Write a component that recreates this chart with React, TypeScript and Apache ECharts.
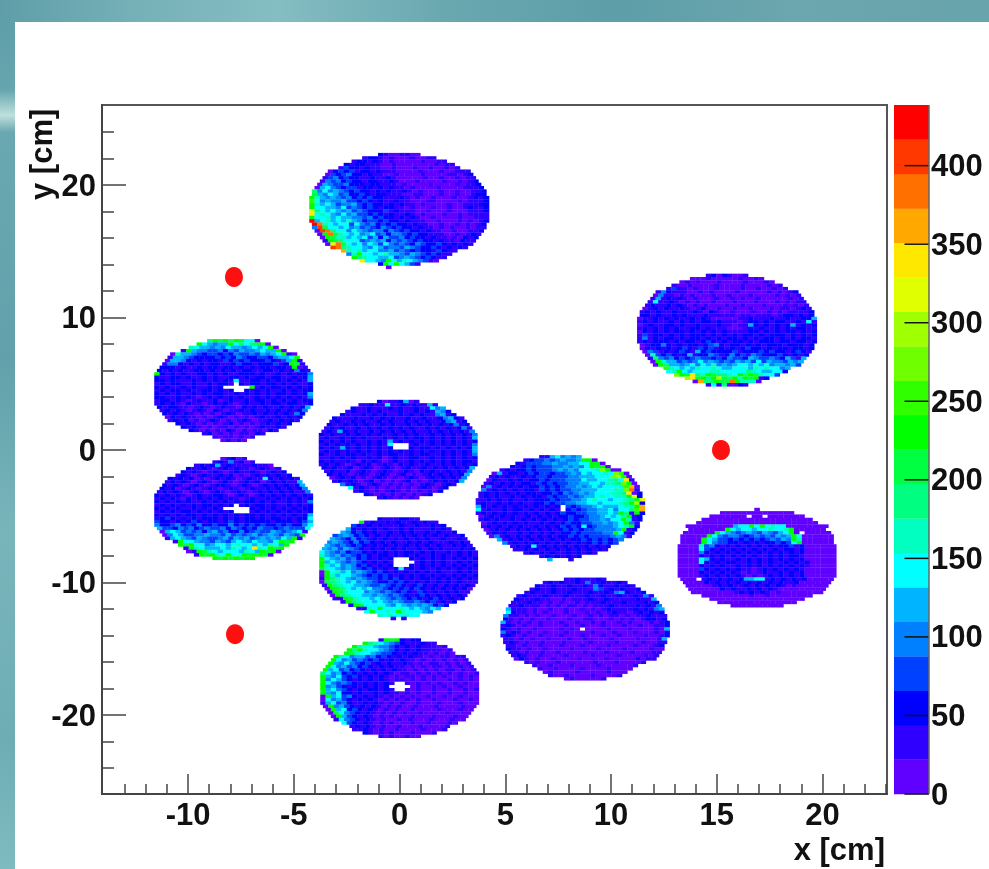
import React, { useEffect, useRef } from "react";
import * as echarts from "echarts";

const FONT = "'Liberation Sans', Arial, sans-serif";
const X_MIN = -14.07, X_MAX = 23.05, Y_MIN = -25.96, Y_MAX = 26.04, Z_MAX = 438.6;
const CELL = 0.25;
const BAND_STEP = 21.93;

const bandColors = ["#6000ff","#3000ff","#0000ff","#0040ff","#0080ff","#00b4ff","#00ffff","#00ffc0","#00ff80","#00ff40","#00ff00","#30ff00","#70ff00","#a0ff00","#e0ff00","#ffe800","#ffa800","#ff7000","#ff3800","#ff0000"];
const xMajor = [-10, -5, 0, 5, 10, 15, 20];
const xMinor = [-13,-12,-11,-9,-8,-7,-6,-4,-3,-2,-1,1,2,3,4,6,7,8,9,11,12,13,14,16,17,18,19,21,22,23];
const yMajor = [-20, -10, 0, 10, 20];
const yMinor = [-24,-22,-18,-16,-14,-12,-8,-6,-4,-2,2,4,6,8,12,14,16,18,22,24];
const zTicks = [0, 50, 100, 150, 200, 250, 300, 350, 400];
const redDots = [[-7.83, 13.06], [-7.78, -13.9], [15.2, 0]];

// Each string is a row of cells; each character is a colour-band level (base 20).
// "." only groups characters for reading; a space is an empty cell.
const discTop = ["21001100","122101000.10011","122121010.000010011","212211100.1000000010.11","132212110.0100010010.0101","0232312212.1110000100.0100111","0323422121.1001000010.00011012","1342322112.1121000001.001001011","1434232212.2112100010.0001001012","0543342221.2211101000.01000010112","0564323312.2121211010.000100001112","8464543232.2121211210.1000100100112","9546534223.2122111001.1000100100122","a754543423.2322111210.10010001001212","b645445332.3212112110.00110000101112","a756534453.2322121211.01000010011122","a665546343.2321221101.00010010012112","e865654534.3222312111.00100010001112","f676546453.3232121121.01000100101111","a667565544.3423221212.10010000100111","j567565754.2332322121.11001000101012","jh76566364.3423232212.1100100101012","4i96656453.4324323221.2110101001011","0ih8664654.3442432322.121100100112","0ah9765645.6342443232.21110010121","0a97756563.5253342322.1211010212","1a98666345.4524343232.212110211","0eh9656465.3643432432.23212121","ih87665465.3443543223.212121","g7675664.4534323221.3211","47a66567.5543543232.11","a8766556.3454323211","f6654a65.7654310","2a6a6531","0    "];
const discUpperRight = ["12021001","000100000.10010","010100010.000100010","100100001.0000100001.01","131101000.1000010010.0101","1421110010.1000010000.0101012","0411010100.0100100010.00010101","1512121010.0010010100.100000101","1611210101.0010001000.1000101011","1211212101.0100010010.00100010101","0121211210.1200100100.100010110121","1212112111.2102100100.0100101011112","2212112121.1121111101.1011101221212","0112121211.2121000001.12111211211225","1212112121.2122121110.12212122112161","0121122121.1211121101.15212121251212","1212121211.2212111000.12121121212211","0212121221.2121212111.12212121221212","1312212121.2221212121.22121222121212","1412122121.2212121221.21212212121221","1212221212.2123212122.12122212212212","0122421212.2123421221.2121222122212","0212121232.1323121212.3221212212212","0431212321.5232222312.223232212321","0732321251.2243124231.43222321212","1843423234.3323243325.4334325315","0a75534346.4543435453.635443545","0a85545646.5745456656.56455453","b7656576.6765566657.676645","67a65666.7766666876.55662","ca9f87a9.8876a8a976.63","df9a8ad9.8a7a9a12","0g88a99h.a7770","16180021"];
const discLT = ["8a9a8a96.60","a65455a6.8689a0","765545465.545656a0","1a5443342.435445655a0","0755432332.3243343545.6a10","1554322223.2324322332.4556a","0554212122.1323232223.2135a1","1442121212.2112322122.2312a91","2221211212.2122121212.21221a01","2121211221.2121212211.221212421","a212121122.1212112221.2112121224","2112212112.1211221212.2122112125","2212111212.1212161122.1212121215","1212211211.21221 2122.1221212112","2121121211.212     a1.2122121212","1212212112.21212  212.1211212122","2121211212.1221121212.1212212125","2211212101.2121212112.1212121214","1221210121.1201211212.2121212122","1212102110.1212101211.2122122112","2122110121.0121102121.211212125","1212101210.2101121211.21212124","2121210101.0121011212.1212142","0212110101.2101010121.121212","1212010121.0101210112.12121","212101010.1201010121.212","212101011.0101012112.1","21010102.101011021","12010101.1021","10110101","01010"];
const discLB = ["01201","12141201","121251211.112110","211210121.211012101","212101210.1211210121.2","121012112.1201012121.212","2121201012.1210121162.12121","1212101210.1210121201.212115","2121012101.2210121012.1212125","2120121012.1012101211.21212124","1212101210.1210121012.121212114","2121210121.1221012101.2121212121","1212102121.2121210121.1212121212","2121212112.1212121221.2121121214","1212121212.21212 1212.2121121212","2121211212.121     21.2121212122","1212122121.21212   12.1212121212","2121212212.1212121221.2121212125","1232121212.2212121221.2122121226","3221212321.2212321222.2212221235","4223423242.2322423232.3223232246","5332434234.3342432324.332343336","0565343424.5342242343.35434561","0465334454.4353434534.543543a","1565435433.4535453454.5465a1","1a6654435.4356546554.6a9a","a9a664566.5676656576.5a","1a7655565.7656f76a9a","01a976566.65765a9a0","1a9a76a6.6a9aa90","a9a9a9aa"];
const discCenter = ["20112501","112116112.121151","211211121.211211645","121121211.1211212154.2","211121212.1121212114.512","2111211212.1211211211.24521","1211212112.1211212121.124512","2112121211.2121121212.1212412","1212112121.2121212112.12121241","1215212112.1212121211.212121214","2121121212.1211212121.1212121214","1211212121.1121212122.1212121215","2121212112.1215121212.1212121212","1212121212.1216   121.1212121214","2121521212.1212   212.2121212125","1212121212.1212121212.1212121215","2112122121.1212211212.2112121214","1121212112.1201211221.1212121212","2121121021.2101211212.1212121221","1212101212.0121021211.2112121212","2121120121.0121012112.121212125","1211201210.1210121021.21121214","2121012101.2101201012.1212125","0121201012.1010121012.121214","1212101201.0101201012.12125","412101210.1010101210.121","61210101.0101012101.2","12101012.101010102","21010101.01012","12101010"];
const discLowerCenter = ["21112211","a12112121.121211","321212111.211211212","521212121.1212111212.1","542321211.2121211212.112","3454232121.2112121212.12112","5432423121.2121212121.121121","4543242321.2121121212.1112121","5434323212.1212121212.12112121","5453543212.1212121121.212111212","6543423321.2121212212.1211212121","7545343232.1221212121.1212112121","a654534232.1212   212.1212121212","a565434321.2121    12.1212112121","a756454232.1212   212.1212121212","9665454323.2121261212.1121212121","0a67564543.2321212121.2121112121","0a75665432.3232121212.1212121212","1a87654543.3232321212.2121212121","0987656454.3223232121.2121212111","1a87665543.3432321232.121212121","0a98656564.4323232321.21212120","1a97666454.3432321321.2121211","0a87665545.4343212321.212121","11a9766565.4343232123.21212","1a8766565.4543343231.212","1a9666654.6545454232.","1176a666.76565465","6a6676a7.66654","76766766","1 1"];
const discBottom = ["1a9a2122","a8765432.111211","a7665443.2121211101","a8a76654.3212121111.01","a9766543.3212121101.010","a764553423.2121211010.11011","a645343232.1212110101.010101","a546432312.1211210101.1010101","a645342321.2121101010.11010101","a563423212.1212110101.010110101","8645232121.2121011010.1010101001","a546323212.1210101101.0101001010","a465321212.1210110101.0100101010","a643432121.2121  1010.1010010100","a453212121.212    010.0101001000","a564321212.2121  1010.0100100101","a546221211.2121101010.0100100100","0a56342121.2101010100.1001001000","0645321212.1010101010.0100010010","1563421121.2101010010.0010001000","0a45321212.1010100100.010000100","0a56232121.0101001000.01000100","0964321210.1010100100.0010000","0a53212101.0100010001.000100","1643212101.0010100010.00100","632121010.1000100100.010","12121010.0100010000.1","11210100.1000010001","21010100.010001","10100100"];
const discRightCenter = ["11564545","123343454.45aa0","213334454.45566aa0","212323334.454546a9a0","121223233.3454546667ca00","0512212323.3233454656676cb0","1212112123.3233344555666cda0","0211212122.3233344465.566786f1","1212121221.3232334455.665778ca0","0412121212.2323234454.5656667bg0","4121212122.1323233445.5566677ch1","1212121212.2122324345.45666778f02","1212112121.2213233434.55676677ae2","1121212112.1222323344.5676656678ae","1211212121.1223233445.566566678ad2","5212121212.121212 323.4456555677ag","6121121221.212121 232.3445564668bg","1212121212.1212123223.3445565a81a2","0121212112.1212122322.34456567a12","1212112121.2121212323.3445466a712","0121212121.1212123223.3445456a41","1212121211.2121232326.23444567a2","0121212121.2121232323.344445a12","1212112121.2121223233.3344a612","0412121212.1212232323.3334541","512121212.1212122323.23234","412121212.1212121232.323","12126121.2121212121.2","11212121.2121212121","12121211.212121","12121212","5   1"];
const discLowerRight = ["11211121","121211214.1121121","211211211.2142112121","121121112.1114312121.12","121112112.1112112145.2112","1211121112.1112112112.112141","2111211001.0111211211.1112115","1112110101.0010111211.12111212","1121110101.0110101112.111121214","5111010010.0100101012.1111212145","6211010100.0100010101.2110121212","4110101001.0001001010.11010112111","2101010010.0010011000.10101012212","5101010100.0100100101.001010001012","1210100100.0010010001.000100100112","2101001000.01010 0000.100010000105","4121010010.0010000100.010001000102","1210100100.0100010001.001000010012","1101010010.0010010000.10000100015","1210100100.0100001000.01000010011","1101001000.1000100001.0000100012","2110100100.0010000100.0010000100","1101001001.0000100010.000100011","1210010000.1000010000.10000101","0210100100.0010000100.0002011","101000100.0000100010.0001","100100010.0001000000.1","10010000.1000010000","01000010.00001000","10010000.100001","01000001"];
const discFarRight = ["0","0000000000.0000","0000000 0.0 0000000","0000000000.0000000000.0","0000000000.0000000000.000","0000000005.66a6a67660.0000000","0000000a6.5665667667.a000000","000000a654.3454354356.a0 00000","00000a6434.4323434354.5a6000000","0000a65332.3232323435.4a7000000","0000a64332.2121212232.36a000000","0000734212.1212121212.2312000000","0000632121.2121212121.2212000000","0000421212.1212121212.1212000000","0000212121.2121211212.1221000000","0000652121.1212121212.1212000000","0000621212.2112121211.2121200000","0000212121.1212121212.1212100000","0000321212.1211012121.2121000000","0000212121.2101012112.1212000000","0000121212.1210101212.1212000000","000 121212.1255661212.121200000","0000212121.2121212121.12000000","0000012121.1212121210.1000000","0000002121.1212121000.000000","0000000012.1212101000.00000","000000000.1001000000.00","000000000.000000000","000000000.000000","000000000.0"];

const discs: { cx: number; cy: number; rows: string[] }[] = [
  { cx: -0.02, cy: 18.05, rows: discTop },
  { cx: 15.48, cy: 9.06, rows: discUpperRight },
  { cx: -7.85, cy: 4.5, rows: discLT },
  { cx: -7.85, cy: -4.4, rows: discLB },
  { cx: -0.07, cy: 0.04, rows: discCenter },
  { cx: -0.05, cy: -8.95, rows: discLowerCenter },
  { cx: 0, cy: -17.96, rows: discBottom },
  { cx: 7.6, cy: -4.38, rows: discRightCenter },
  { cx: 8.77, cy: -13.5, rows: discLowerRight },
  { cx: 16.9, cy: -8.11, rows: discFarRight },
];

const cells: number[][] = [];
discs.forEach(({ cx, cy, rows }) => {
  rows.forEach((raw, r) => {
    const row = raw.replace(/\./g, "");
    const y = cy + ((rows.length - 1) / 2 - r) * CELL;
    [...row].forEach((ch, i) => {
      if (ch === " ") return;
      const x = cx + (i - (row.length - 1) / 2) * CELL;
      cells.push([x, y, (parseInt(ch, 20) + 0.5) * BAND_STEP]);
    });
  });
});

const colorFor = (v: number) => bandColors[Math.min(bandColors.length - 1, Math.floor(v / BAND_STEP))];
const bands = bandColors.map((_, i) => [i * BAND_STEP, (i + 1) * BAND_STEP]);

const axisLine = { show: true, onZero: false, lineStyle: { color: "#444", width: 2 } };
const labelStyle = { fontFamily: FONT, fontWeight: "bold" as const, fontSize: 31, color: "#111" };

export default function App() {
  const ref = useRef<HTMLDivElement>(null);
  useEffect(() => {
    const chart = echarts.init(ref.current!, undefined, { renderer: "svg" });
    chart.setOption({
      animation: false,
      grid: [
        { left: 102, top: 105, width: 785, height: 689, show: true, borderColor: "#555", borderWidth: 2, backgroundColor: "transparent" },
        { left: 894, top: 105, width: 35, height: 689, show: false },
      ],
      xAxis: [
        { type: "value", gridIndex: 0, position: "bottom", min: X_MIN, max: X_MAX, splitLine: { show: false }, axisLine,
          axisTick: { inside: true, length: 20, lineStyle: { color: "#444", width: 1.5 }, customValues: xMajor },
          axisLabel: { ...labelStyle, margin: 5, customValues: xMajor } },
        { type: "value", gridIndex: 0, position: "bottom", min: X_MIN, max: X_MAX, splitLine: { show: false }, axisLine,
          axisTick: { inside: true, length: 10, lineStyle: { color: "#444", width: 1.5 }, customValues: xMinor },
          axisLabel: { show: false } },
        { type: "value", gridIndex: 1, min: 0, max: 1, show: false },
      ],
      yAxis: [
        { type: "value", gridIndex: 0, position: "left", min: Y_MIN, max: Y_MAX, splitLine: { show: false }, axisLine,
          axisTick: { inside: true, length: 24, lineStyle: { color: "#444", width: 1.5 }, customValues: yMajor },
          axisLabel: { ...labelStyle, margin: 6, customValues: yMajor } },
        { type: "value", gridIndex: 0, position: "left", min: Y_MIN, max: Y_MAX, splitLine: { show: false }, axisLine,
          axisTick: { inside: true, length: 12, lineStyle: { color: "#444", width: 1.5 }, customValues: yMinor },
          axisLabel: { show: false } },
        { type: "value", gridIndex: 1, position: "right", min: 0, max: Z_MAX, splitLine: { show: false },
          axisLine: { show: false }, axisTick: { show: false },
          axisLabel: { ...labelStyle, margin: 2, customValues: zTicks } },
      ],
      series: [
        {
          type: "custom", xAxisIndex: 0, yAxisIndex: 0, clip: true, data: cells, encode: { x: 0, y: 1 },
          renderItem: (_: any, api: any) => {
            const p = api.coord([api.value(0) - CELL / 2, api.value(1) + CELL / 2]);
            const s = api.size([CELL, CELL]);
            return { type: "rect", shape: { x: p[0], y: p[1], width: s[0] + 0.3, height: s[1] + 0.3 }, style: { fill: colorFor(api.value(2)) } };
          },
        },
        { type: "scatter", xAxisIndex: 0, yAxisIndex: 0, data: redDots, symbol: "circle", symbolSize: [18, 20], itemStyle: { color: "#ff1010", opacity: 1 }, z: 5 },
        {
          type: "custom", xAxisIndex: 2, yAxisIndex: 2, data: bands, encode: { y: [0, 1] },
          renderItem: (params: any, api: any) => {
            const a = api.coord([0, api.value(1)]);
            const b = api.coord([1, api.value(0)]);
            return { type: "rect", shape: { x: a[0], y: a[1], width: b[0] - a[0], height: b[1] - a[1] + 0.3 }, style: { fill: bandColors[params.dataIndex] } };
          },
        },
        {
          type: "custom", xAxisIndex: 2, yAxisIndex: 2, data: zTicks.map((v) => [v]), encode: { y: 0 }, z: 6,
          renderItem: (_: any, api: any) => {
            const a = api.coord([0.3, api.value(0)]);
            const b = api.coord([1, api.value(0)]);
            return { type: "line", shape: { x1: a[0], y1: a[1], x2: b[0], y2: b[1] }, style: { stroke: "#111", lineWidth: 1.5 } };
          },
        },
        { type: "line", xAxisIndex: 2, yAxisIndex: 2, data: [[1, 0], [1, Z_MAX]], symbol: "none", lineStyle: { color: "#666", width: 1.5 }, z: 6 },
      ],
      graphic: [
        { type: "text", x: 885, y: 849, style: { text: "x [cm]", font: `bold 31px ${FONT}`, fill: "#111", textAlign: "right", textVerticalAlign: "middle" } },
        { type: "text", x: 41, y: 200, rotation: Math.PI / 2, style: { text: "y [cm]", font: `bold 31px ${FONT}`, fill: "#111", textAlign: "left", textVerticalAlign: "middle" } },
      ],
    });
    return () => chart.dispose();
  }, []);
  return (
    <div style={{ position: "absolute", left: 0, top: 0, width: 989, height: 869, overflow: "hidden", background: "#fff" }}>
      <div style={{ position: "absolute", left: 0, top: 0, width: 989, height: 22, background: "linear-gradient(90deg,#5f9ea8 0%,#78b2b9 15%,#84bdc2 28%,#6aa8b0 45%,#5d9ea8 62%,#6ca6ae 80%,#68a4ac 100%)" }} />
      <div style={{ position: "absolute", left: 0, top: 22, width: 15, height: 847, background: "linear-gradient(180deg,#5f9fa9 0%,#66a5ae 8%,#bfe0dc 11%,#6aa8b1 13%,#62a1ab 40%,#78b5bb 60%,#6fadb5 85%,#7dbbc0 100%)" }} />
      <div ref={ref} style={{ position: "absolute", left: 0, top: 0, width: 989, height: 869, filter: "blur(0.5px)" }} />
    </div>
  );
}
